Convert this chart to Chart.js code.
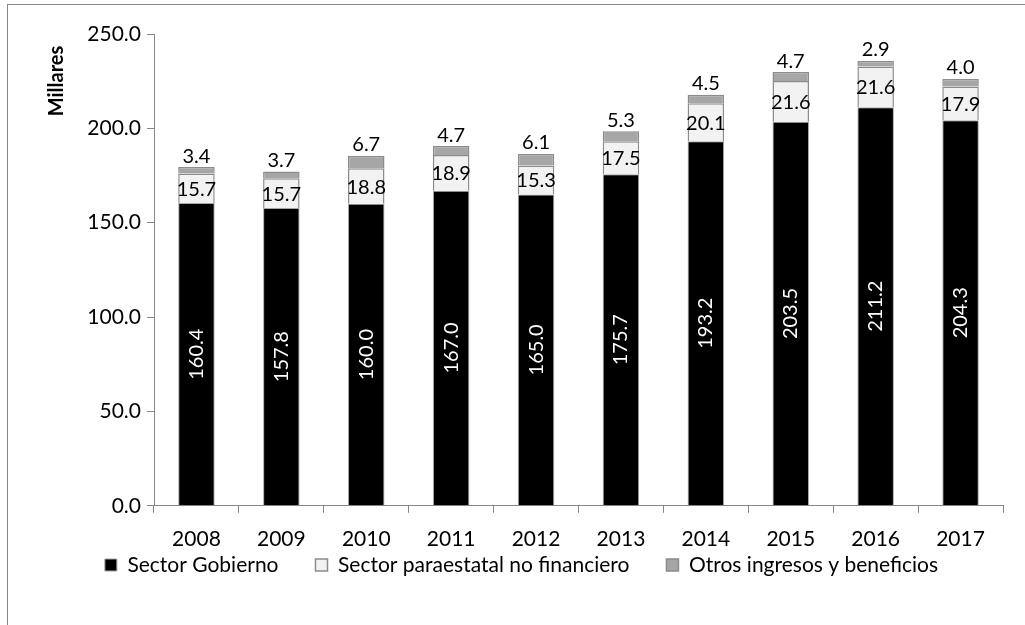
<!DOCTYPE html>
<html>
<head>
<meta charset="utf-8">
<script src="https://cdn.jsdelivr.net/npm/chart.js@4/dist/chart.umd.min.js"></script>
<style>
  html, body { margin: 0; padding: 0; background: #fff; }
  #wrap { position: relative; width: 1025px; height: 625px; overflow: hidden; }
  #frame { position: absolute; left: 7px; top: 4px; width: 1100px; height: 700px; border-left: 1px solid #888; border-top: 1px solid #888; }
  canvas { position: absolute; left: 0; top: 0; }
</style>
</head>
<body>
<div id="wrap">
  <div id="frame"></div>
  <canvas id="chart" width="1025" height="625"></canvas>
</div>
<script>
const years = ['2008', '2009', '2010', '2011', '2012', '2013', '2014', '2015', '2016', '2017']
const gobierno = [160.4, 157.8, 160.0, 167.0, 165.0, 175.7, 193.2, 203.5, 211.2, 204.3]
const paraestatal = [15.7, 15.7, 18.8, 18.9, 15.3, 17.5, 20.1, 21.6, 21.6, 17.9]
const otros = [3.4, 3.7, 6.7, 4.7, 6.1, 5.3, 4.5, 4.7, 2.9, 4.0]
const yTicks = [0, 50, 100, 150, 200, 250]

const FONT = "Lato, 'Open Sans', sans-serif"
const LEGEND_Y = 565

// value labels drawn on/above the bars, plus the axis title near the top
const barLabels = {
    id: 'barLabels',
    afterInit(chart) {
        // legend needs wide gaps between items but little room in height
        const lg = chart.legend
        const fit = lg.fit
        lg.fit = function () { fit.call(this); this.height = 40 }
    },
    afterLayout(chart) {
        const lg = chart.legend
        const pad = lg.options.labels.padding
        lg.top = LEGEND_Y - pad - 10.5
        lg.bottom = chart.height
        lg.height = lg.bottom - lg.top
    },
    afterDatasetsDraw(chart) {
        const ctx = chart.ctx
        ctx.save()
        ctx.font = '20px ' + FONT
        chart.data.datasets.forEach((ds, di) => {
            const meta = chart.getDatasetMeta(di)
            meta.data.forEach((bar, i) => {
                const txt = ds.data[i].toFixed(1)
                if (di == 0) {
                    ctx.save()
                    ctx.translate(bar.x, (bar.y + bar.base) / 2)
                    ctx.rotate(-Math.PI / 2)
                    ctx.fillStyle = '#fff'
                    ctx.textAlign = 'center'
                    ctx.textBaseline = 'middle'
                    ctx.fillText(txt, 0, 0)
                    ctx.restore()
                } else if (di == 1) {
                    ctx.fillStyle = '#000'
                    ctx.textAlign = 'center'
                    ctx.textBaseline = 'middle'
                    ctx.fillText(txt, bar.x, (bar.y + bar.base) / 2 + 1)
                } else {
                    ctx.fillStyle = '#000'
                    ctx.textAlign = 'center'
                    ctx.textBaseline = 'bottom'
                    ctx.fillText(txt, bar.x, bar.y - 1)
                }
            })
        })
        // y title sits high, next to the top ticks
        ctx.save()
        ctx.translate(57, 81)
        ctx.rotate(-Math.PI / 2)
        ctx.font = 'bold 20px ' + FONT
        ctx.fillStyle = '#000'
        ctx.textAlign = 'center'
        ctx.textBaseline = 'middle'
        ctx.fillText('Millares', 0, 0)
        ctx.restore()
        ctx.restore()
    }
}

new Chart('chart', {
    type: 'bar',
    data: {
        labels: years,
        datasets: [
            { label: 'Sector Gobierno', data: gobierno, backgroundColor: '#000000', borderColor: '#a6a6a6', borderWidth: 1 },
            { label: 'Sector paraestatal no financiero', data: paraestatal, backgroundColor: '#f2f2f2', borderColor: '#8c8c8c', borderWidth: 1.5 },
            { label: 'Otros ingresos y beneficios', data: otros, backgroundColor: '#a6a6a6', borderColor: '#8c8c8c', borderWidth: 1.5 }
        ]
    },
    options: {
        responsive: false,
        animation: false,
        layout: { padding: { left: 40, right: 22, top: 34, bottom: 19 } },
        datasets: { bar: { categoryPercentage: 1, barPercentage: 0.43 } },
        scales: {
            x: {
                stacked: true,
                border: { color: '#868686', width: 1 },
                grid: { offset: true, drawOnChartArea: false, drawTicks: true, tickLength: 7, color: '#868686' },
                ticks: { color: '#000', font: { family: FONT, size: 21 }, padding: 14 }
            },
            y: {
                stacked: true,
                min: 0,
                max: 250,
                afterBuildTicks: s => { s.ticks = yTicks.map(v => ({ value: v })) },
                afterFit: s => { s.width = 114 },
                border: { color: '#868686', width: 1 },
                grid: { drawOnChartArea: false, drawTicks: true, tickLength: 7, color: '#868686' },
                ticks: { color: '#000', font: { family: FONT, size: 21 }, padding: 6, callback: v => v.toFixed(1) }
            }
        },
        plugins: {
            legend: {
                position: 'bottom',
                labels: { color: '#000', font: { family: FONT, size: 21 }, boxWidth: 12, boxHeight: 12, padding: 37 }
            },
            tooltip: { enabled: false }
        }
    },
    plugins: [barLabels]
})
</script>
</body>
</html>
